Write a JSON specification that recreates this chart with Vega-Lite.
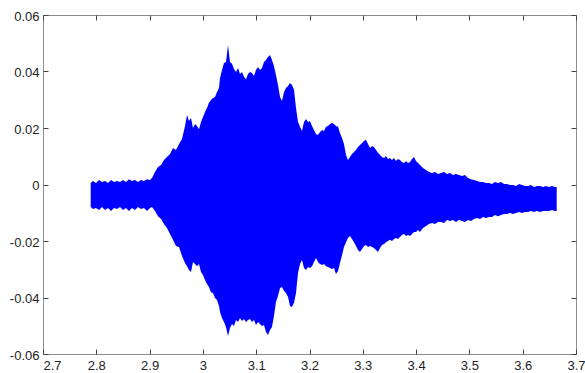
{
  "$schema": "https://vega.github.io/schema/vega-lite/v6.json",
  "autosize": {"type": "none"},
  "width": 533,
  "height": 339,
  "padding": {"left": 43, "top": 15, "right": 9, "bottom": 19},
  "background": "white",
  "config": {
    "view": {"stroke": "#8c8c8c", "strokeWidth": 1},
    "axis": {
      "grid": false,
      "domain": false,
      "tickSize": -5,
      "tickColor": "#444444",
      "tickWidth": 1,
      "labelFont": "Liberation Sans",
      "labelFontSize": 13,
      "labelColor": "#222222",
      "title": null
    }
  },
  "data": {
    "values": [
      {"t": 2.7895, "hi": 0.0005, "lo": -0.0080},
      {"t": 2.7938, "hi": 0.0012, "lo": -0.0087},
      {"t": 2.7994, "hi": 0.0005, "lo": -0.0083},
      {"t": 2.8051, "hi": 0.0016, "lo": -0.0090},
      {"t": 2.8107, "hi": 0.0009, "lo": -0.0080},
      {"t": 2.8163, "hi": 0.0012, "lo": -0.0090},
      {"t": 2.8220, "hi": 0.0005, "lo": -0.0083},
      {"t": 2.8276, "hi": 0.0016, "lo": -0.0094},
      {"t": 2.8332, "hi": 0.0009, "lo": -0.0083},
      {"t": 2.8388, "hi": 0.0012, "lo": -0.0087},
      {"t": 2.8445, "hi": 0.0009, "lo": -0.0080},
      {"t": 2.8501, "hi": 0.0016, "lo": -0.0090},
      {"t": 2.8557, "hi": 0.0009, "lo": -0.0083},
      {"t": 2.8614, "hi": 0.0019, "lo": -0.0094},
      {"t": 2.8670, "hi": 0.0012, "lo": -0.0083},
      {"t": 2.8726, "hi": 0.0016, "lo": -0.0090},
      {"t": 2.8782, "hi": 0.0009, "lo": -0.0080},
      {"t": 2.8839, "hi": 0.0016, "lo": -0.0087},
      {"t": 2.8895, "hi": 0.0012, "lo": -0.0083},
      {"t": 2.8951, "hi": 0.0019, "lo": -0.0094},
      {"t": 2.9008, "hi": 0.0016, "lo": -0.0083},
      {"t": 2.9045, "hi": 0.0023, "lo": -0.0080},
      {"t": 2.9101, "hi": 0.0044, "lo": -0.0094},
      {"t": 2.9158, "hi": 0.0062, "lo": -0.0112},
      {"t": 2.9214, "hi": 0.0069, "lo": -0.0122},
      {"t": 2.9270, "hi": 0.0087, "lo": -0.0140},
      {"t": 2.9326, "hi": 0.0097, "lo": -0.0154},
      {"t": 2.9383, "hi": 0.0108, "lo": -0.0175},
      {"t": 2.9439, "hi": 0.0129, "lo": -0.0196},
      {"t": 2.9495, "hi": 0.0122, "lo": -0.0218},
      {"t": 2.9552, "hi": 0.0143, "lo": -0.0221},
      {"t": 2.9608, "hi": 0.0161, "lo": -0.0253},
      {"t": 2.9664, "hi": 0.0207, "lo": -0.0278},
      {"t": 2.9702, "hi": 0.0246, "lo": -0.0289},
      {"t": 2.9739, "hi": 0.0225, "lo": -0.0303},
      {"t": 2.9777, "hi": 0.0235, "lo": -0.0310},
      {"t": 2.9814, "hi": 0.0200, "lo": -0.0274},
      {"t": 2.9852, "hi": 0.0214, "lo": -0.0281},
      {"t": 2.9889, "hi": 0.0207, "lo": -0.0289},
      {"t": 2.9927, "hi": 0.0196, "lo": -0.0281},
      {"t": 2.9964, "hi": 0.0221, "lo": -0.0310},
      {"t": 3.0002, "hi": 0.0239, "lo": -0.0320},
      {"t": 3.0039, "hi": 0.0257, "lo": -0.0338},
      {"t": 3.0077, "hi": 0.0271, "lo": -0.0352},
      {"t": 3.0114, "hi": 0.0289, "lo": -0.0363},
      {"t": 3.0152, "hi": 0.0299, "lo": -0.0381},
      {"t": 3.0189, "hi": 0.0306, "lo": -0.0384},
      {"t": 3.0227, "hi": 0.0310, "lo": -0.0402},
      {"t": 3.0265, "hi": 0.0327, "lo": -0.0409},
      {"t": 3.0302, "hi": 0.0342, "lo": -0.0430},
      {"t": 3.0321, "hi": 0.0377, "lo": -0.0451},
      {"t": 3.0358, "hi": 0.0405, "lo": -0.0473},
      {"t": 3.0396, "hi": 0.0430, "lo": -0.0487},
      {"t": 3.0433, "hi": 0.0434, "lo": -0.0504},
      {"t": 3.0471, "hi": 0.0494, "lo": -0.0536},
      {"t": 3.0508, "hi": 0.0434, "lo": -0.0508},
      {"t": 3.0546, "hi": 0.0427, "lo": -0.0494},
      {"t": 3.0583, "hi": 0.0409, "lo": -0.0501},
      {"t": 3.0621, "hi": 0.0398, "lo": -0.0480},
      {"t": 3.0659, "hi": 0.0412, "lo": -0.0487},
      {"t": 3.0696, "hi": 0.0391, "lo": -0.0473},
      {"t": 3.0734, "hi": 0.0398, "lo": -0.0483},
      {"t": 3.0771, "hi": 0.0381, "lo": -0.0476},
      {"t": 3.0809, "hi": 0.0373, "lo": -0.0487},
      {"t": 3.0846, "hi": 0.0391, "lo": -0.0480},
      {"t": 3.0884, "hi": 0.0398, "lo": -0.0476},
      {"t": 3.0921, "hi": 0.0395, "lo": -0.0487},
      {"t": 3.0959, "hi": 0.0384, "lo": -0.0480},
      {"t": 3.0996, "hi": 0.0405, "lo": -0.0497},
      {"t": 3.1034, "hi": 0.0416, "lo": -0.0487},
      {"t": 3.1071, "hi": 0.0405, "lo": -0.0494},
      {"t": 3.1109, "hi": 0.0412, "lo": -0.0501},
      {"t": 3.1146, "hi": 0.0434, "lo": -0.0497},
      {"t": 3.1184, "hi": 0.0441, "lo": -0.0522},
      {"t": 3.1221, "hi": 0.0451, "lo": -0.0533},
      {"t": 3.1259, "hi": 0.0458, "lo": -0.0515},
      {"t": 3.1296, "hi": 0.0441, "lo": -0.0504},
      {"t": 3.1334, "hi": 0.0419, "lo": -0.0465},
      {"t": 3.1371, "hi": 0.0388, "lo": -0.0416},
      {"t": 3.1409, "hi": 0.0352, "lo": -0.0395},
      {"t": 3.1447, "hi": 0.0310, "lo": -0.0366},
      {"t": 3.1484, "hi": 0.0296, "lo": -0.0363},
      {"t": 3.1522, "hi": 0.0327, "lo": -0.0377},
      {"t": 3.1559, "hi": 0.0342, "lo": -0.0384},
      {"t": 3.1597, "hi": 0.0349, "lo": -0.0398},
      {"t": 3.1634, "hi": 0.0359, "lo": -0.0430},
      {"t": 3.1672, "hi": 0.0352, "lo": -0.0434},
      {"t": 3.1709, "hi": 0.0335, "lo": -0.0419},
      {"t": 3.1747, "hi": 0.0271, "lo": -0.0384},
      {"t": 3.1784, "hi": 0.0221, "lo": -0.0313},
      {"t": 3.1822, "hi": 0.0204, "lo": -0.0281},
      {"t": 3.1859, "hi": 0.0189, "lo": -0.0267},
      {"t": 3.1897, "hi": 0.0221, "lo": -0.0296},
      {"t": 3.1934, "hi": 0.0232, "lo": -0.0303},
      {"t": 3.1972, "hi": 0.0221, "lo": -0.0292},
      {"t": 3.2009, "hi": 0.0225, "lo": -0.0296},
      {"t": 3.2047, "hi": 0.0207, "lo": -0.0289},
      {"t": 3.2084, "hi": 0.0193, "lo": -0.0274},
      {"t": 3.2122, "hi": 0.0179, "lo": -0.0260},
      {"t": 3.2159, "hi": 0.0175, "lo": -0.0274},
      {"t": 3.2197, "hi": 0.0186, "lo": -0.0281},
      {"t": 3.2235, "hi": 0.0193, "lo": -0.0285},
      {"t": 3.2272, "hi": 0.0189, "lo": -0.0281},
      {"t": 3.2310, "hi": 0.0204, "lo": -0.0289},
      {"t": 3.2347, "hi": 0.0207, "lo": -0.0292},
      {"t": 3.2385, "hi": 0.0214, "lo": -0.0296},
      {"t": 3.2422, "hi": 0.0218, "lo": -0.0299},
      {"t": 3.2460, "hi": 0.0214, "lo": -0.0296},
      {"t": 3.2497, "hi": 0.0207, "lo": -0.0317},
      {"t": 3.2535, "hi": 0.0204, "lo": -0.0306},
      {"t": 3.2572, "hi": 0.0182, "lo": -0.0278},
      {"t": 3.2610, "hi": 0.0165, "lo": -0.0250},
      {"t": 3.2647, "hi": 0.0143, "lo": -0.0221},
      {"t": 3.2685, "hi": 0.0104, "lo": -0.0204},
      {"t": 3.2722, "hi": 0.0087, "lo": -0.0189},
      {"t": 3.2760, "hi": 0.0097, "lo": -0.0182},
      {"t": 3.2797, "hi": 0.0108, "lo": -0.0193},
      {"t": 3.2835, "hi": 0.0115, "lo": -0.0204},
      {"t": 3.2872, "hi": 0.0122, "lo": -0.0218},
      {"t": 3.2910, "hi": 0.0133, "lo": -0.0232},
      {"t": 3.2947, "hi": 0.0140, "lo": -0.0239},
      {"t": 3.2985, "hi": 0.0147, "lo": -0.0228},
      {"t": 3.3023, "hi": 0.0154, "lo": -0.0218},
      {"t": 3.3060, "hi": 0.0158, "lo": -0.0214},
      {"t": 3.3098, "hi": 0.0143, "lo": -0.0221},
      {"t": 3.3135, "hi": 0.0129, "lo": -0.0218},
      {"t": 3.3173, "hi": 0.0136, "lo": -0.0221},
      {"t": 3.3210, "hi": 0.0133, "lo": -0.0225},
      {"t": 3.3248, "hi": 0.0122, "lo": -0.0232},
      {"t": 3.3285, "hi": 0.0112, "lo": -0.0239},
      {"t": 3.3323, "hi": 0.0104, "lo": -0.0225},
      {"t": 3.3360, "hi": 0.0097, "lo": -0.0214},
      {"t": 3.3398, "hi": 0.0094, "lo": -0.0211},
      {"t": 3.3435, "hi": 0.0101, "lo": -0.0204},
      {"t": 3.3473, "hi": 0.0090, "lo": -0.0200},
      {"t": 3.3510, "hi": 0.0094, "lo": -0.0196},
      {"t": 3.3548, "hi": 0.0087, "lo": -0.0200},
      {"t": 3.3585, "hi": 0.0094, "lo": -0.0193},
      {"t": 3.3623, "hi": 0.0083, "lo": -0.0189},
      {"t": 3.3660, "hi": 0.0090, "lo": -0.0193},
      {"t": 3.3698, "hi": 0.0087, "lo": -0.0186},
      {"t": 3.3735, "hi": 0.0080, "lo": -0.0179},
      {"t": 3.3773, "hi": 0.0076, "lo": -0.0175},
      {"t": 3.3811, "hi": 0.0083, "lo": -0.0182},
      {"t": 3.3848, "hi": 0.0076, "lo": -0.0179},
      {"t": 3.3886, "hi": 0.0080, "lo": -0.0182},
      {"t": 3.3923, "hi": 0.0090, "lo": -0.0175},
      {"t": 3.3961, "hi": 0.0097, "lo": -0.0168},
      {"t": 3.3998, "hi": 0.0083, "lo": -0.0168},
      {"t": 3.4036, "hi": 0.0076, "lo": -0.0161},
      {"t": 3.4073, "hi": 0.0069, "lo": -0.0168},
      {"t": 3.4129, "hi": 0.0058, "lo": -0.0154},
      {"t": 3.4186, "hi": 0.0051, "lo": -0.0147},
      {"t": 3.4242, "hi": 0.0044, "lo": -0.0140},
      {"t": 3.4298, "hi": 0.0041, "lo": -0.0136},
      {"t": 3.4355, "hi": 0.0044, "lo": -0.0140},
      {"t": 3.4411, "hi": 0.0037, "lo": -0.0133},
      {"t": 3.4467, "hi": 0.0041, "lo": -0.0133},
      {"t": 3.4523, "hi": 0.0044, "lo": -0.0136},
      {"t": 3.4580, "hi": 0.0037, "lo": -0.0126},
      {"t": 3.4636, "hi": 0.0041, "lo": -0.0129},
      {"t": 3.4692, "hi": 0.0034, "lo": -0.0126},
      {"t": 3.4749, "hi": 0.0037, "lo": -0.0133},
      {"t": 3.4805, "hi": 0.0034, "lo": -0.0126},
      {"t": 3.4861, "hi": 0.0030, "lo": -0.0129},
      {"t": 3.4917, "hi": 0.0034, "lo": -0.0133},
      {"t": 3.4974, "hi": 0.0023, "lo": -0.0126},
      {"t": 3.5030, "hi": 0.0019, "lo": -0.0129},
      {"t": 3.5086, "hi": 0.0016, "lo": -0.0122},
      {"t": 3.5143, "hi": 0.0012, "lo": -0.0119},
      {"t": 3.5199, "hi": 0.0009, "lo": -0.0122},
      {"t": 3.5255, "hi": 0.0009, "lo": -0.0115},
      {"t": 3.5311, "hi": 0.0005, "lo": -0.0119},
      {"t": 3.5368, "hi": 0.0005, "lo": -0.0115},
      {"t": 3.5424, "hi": 0.0002, "lo": -0.0115},
      {"t": 3.5480, "hi": 0.0009, "lo": -0.0108},
      {"t": 3.5537, "hi": 0.0005, "lo": -0.0112},
      {"t": 3.5593, "hi": 0.0009, "lo": -0.0108},
      {"t": 3.5649, "hi": 0.0002, "lo": -0.0104},
      {"t": 3.5705, "hi": 0.0002, "lo": -0.0104},
      {"t": 3.5762, "hi": -0.0002, "lo": -0.0101},
      {"t": 3.5818, "hi": -0.0002, "lo": -0.0104},
      {"t": 3.5874, "hi": -0.0005, "lo": -0.0101},
      {"t": 3.5931, "hi": 0.0002, "lo": -0.0097},
      {"t": 3.5987, "hi": -0.0002, "lo": -0.0101},
      {"t": 3.6043, "hi": -0.0005, "lo": -0.0097},
      {"t": 3.6099, "hi": -0.0005, "lo": -0.0097},
      {"t": 3.6156, "hi": -0.0002, "lo": -0.0094},
      {"t": 3.6212, "hi": -0.0009, "lo": -0.0097},
      {"t": 3.6268, "hi": -0.0005, "lo": -0.0094},
      {"t": 3.6325, "hi": -0.0005, "lo": -0.0097},
      {"t": 3.6381, "hi": -0.0009, "lo": -0.0094},
      {"t": 3.6437, "hi": -0.0005, "lo": -0.0094},
      {"t": 3.6493, "hi": -0.0009, "lo": -0.0094},
      {"t": 3.6550, "hi": -0.0005, "lo": -0.0090},
      {"t": 3.6606, "hi": -0.0009, "lo": -0.0094},
      {"t": 3.6638, "hi": -0.0009, "lo": -0.0094}
    ]
  },
  "layer": [
    {
      "mark": {"type": "area", "color": "#0000ff", "interpolate": "linear"},
      "encoding": {
        "x": {
          "field": "t",
          "type": "quantitative",
          "scale": {"domain": [2.7, 3.7], "nice": false, "zero": false},
          "axis": {
            "orient": "bottom",
            "values": [2.7, 2.8, 2.9, 3, 3.1, 3.2, 3.3, 3.4, 3.5, 3.6, 3.7],
            "labelPadding": 10,
            "labelAlign": {"condition": {"test": "datum.value < 2.75", "value": "left"}, "value": "center"},
            "labelExpr": "datum.value == 3 ? '3' : format(datum.value, '.1f')"
          }
        },
        "y": {
          "field": "hi",
          "type": "quantitative",
          "scale": {"domain": [-0.06, 0.06], "nice": false, "zero": false},
          "axis": {
            "orient": "left",
            "values": [-0.06, -0.04, -0.02, 0, 0.02, 0.04, 0.06],
            "labelPadding": 9,
            "labelOffset": 1,
            "labelExpr": "datum.value == 0 ? '0' : replace(format(datum.value, '.2f'), '−', '-')"
          }
        },
        "y2": {"field": "lo"}
      }
    },
    {
      "mark": {"type": "area", "opacity": 0},
      "encoding": {
        "x": {
          "field": "t",
          "type": "quantitative",
          "axis": {
            "orient": "top",
            "values": [2.7, 2.8, 2.9, 3, 3.1, 3.2, 3.3, 3.4, 3.5, 3.6, 3.7],
            "labels": false
          }
        },
        "y": {
          "field": "hi",
          "type": "quantitative",
          "axis": {
            "orient": "right",
            "values": [-0.06, -0.04, -0.02, 0, 0.02, 0.04, 0.06],
            "labels": false
          }
        },
        "y2": {"field": "lo"}
      }
    }
  ],
  "resolve": {"axis": {"x": "independent", "y": "independent"}}
}
